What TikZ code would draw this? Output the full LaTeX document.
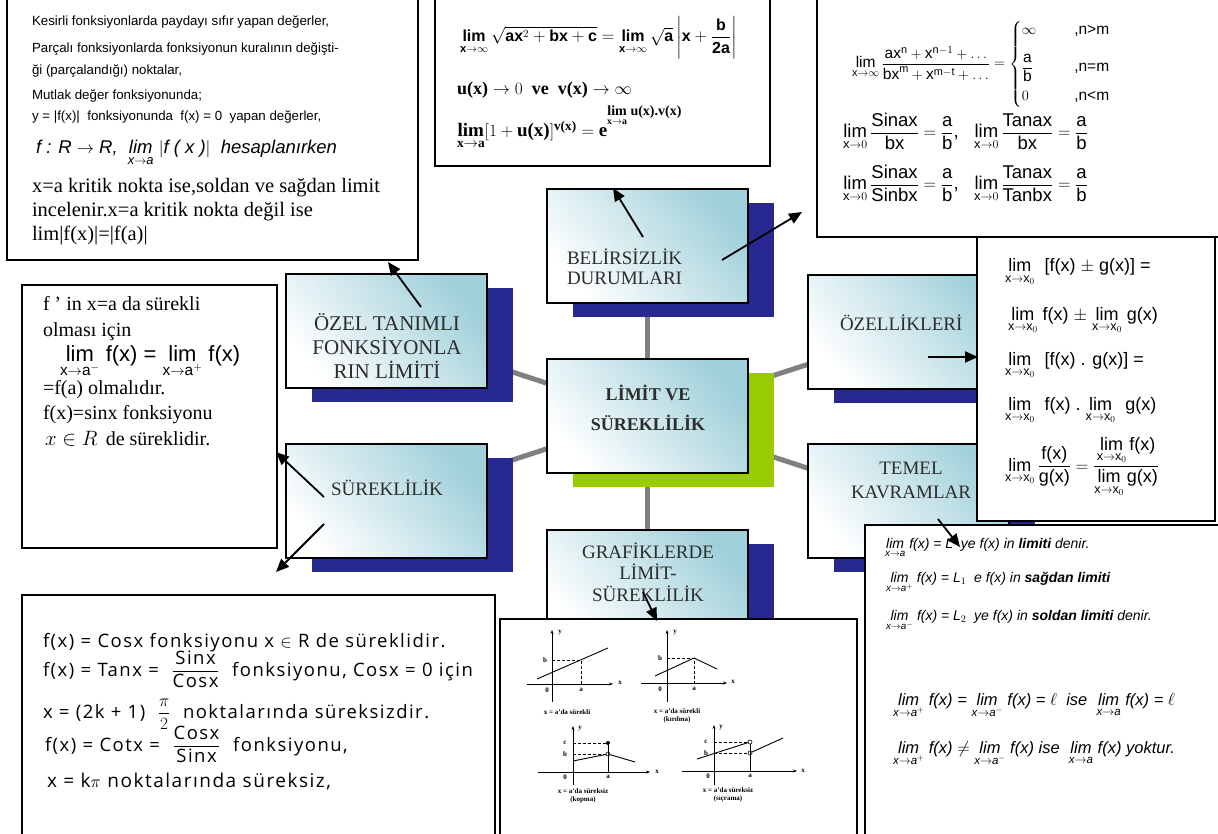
\documentclass[tikz,border=0pt]{standalone}
\usepackage{amsmath}
\usepackage{fontspec}
\setmainfont{Liberation Serif}
\setsansfont{Liberation Sans}
\newfontfamily\optfont[LetterSpace=8]{Open Sans}
\usetikzlibrary{arrows.meta,calc}
\definecolor{navyshadow}{RGB}{40,40,145}
\definecolor{limegreen}{RGB}{153,204,0}
\definecolor{tealtop}{RGB}{160,208,218}
\definecolor{connectgray}{RGB}{128,128,128}
\definecolor{labelgray}{RGB}{45,45,45}
\pgfdeclarelayer{bg}
\pgfsetlayers{bg,main}
\newcommand{\Lm}[1]{\mathop{\text{lim}}\limits_{#1}}
\begin{document}
\begin{tikzpicture}[x=1pt,y=-1pt,
  every node/.style={inner sep=0pt,outer sep=0pt},
  cbox/.style={draw=black,line width=2pt,minimum width=201pt,minimum height=114pt,anchor=north west,top color=tealtop,bottom color=white,shading angle=-50},
  ctext/.style={align=center,text=labelgray,font=\fontsize{19}{24}\selectfont},
  fbox/.style={draw=black,line width=2.6pt,fill=white,anchor=north west},
  conn/.style={draw=connectgray,line width=5pt},
  arr/.style={line width=1.8pt,-{Triangle[length=13pt,width=11pt]}},
  ln/.style={anchor=base west},
  gax/.style={line width=0.8pt,-{Stealth[length=4pt,width=3pt]}},
  gln/.style={line width=0.9pt},
  gds/.style={line width=0.5pt,densely dashed},
  glab/.style={font=\bfseries\fontsize{7}{7}\selectfont},
  gcap/.style={font=\bfseries\fontsize{7}{8}\selectfont,align=center}]
\useasboundingbox (0,0) rectangle (1218,834);
\clip (0,0) rectangle (1218,834);

% concept boxes
\node[cbox] (bel) at (547,189) {};
\node[cbox] (oz) at (286,274) {};
\node[cbox] (sur) at (286,444) {};
\node[cbox] (cen) at (547,359) {};
\node[cbox] (ozl) at (808,275) {};
\node[cbox] (tem) at (808,444) {};
\node[cbox] (gra) at (547,530) {};

\begin{pgfonlayer}{bg}
\fill[white] (0,0) rectangle (1218,834);
\draw[conn] (cen.center) -- (bel.center);
\draw[conn] (cen.center) -- (gra.center);
\draw[conn] (cen.center) -- (oz.center);
\draw[conn] (cen.center) -- (sur.center);
\draw[conn] (cen.center) -- (ozl.center);
\draw[conn] (cen.center) -- (tem.center);
\foreach \n in {bel,oz,sur,ozl,tem,gra}
  \fill[navyshadow] ($(\n.north west)+(26,14)$) rectangle ($(\n.south east)+(26,14)$);
\fill[limegreen] ($(cen.north west)+(26,14)$) rectangle ($(cen.south east)+(26,14)$);
\end{pgfonlayer}

% concept labels
\node[ctext,anchor=west,align=left,font=\fontsize{19}{20}\selectfont] (belt) at (567,267) {BELİRSİZLİK\\DURUMLARI};
\node[ctext,font=\fontsize{21}{24}\selectfont] (ozt) at (387,346) {ÖZEL TANIMLI\\FONKSİYONLA\\RIN LİMİTİ};
\node[ctext] (surt) at (387,488) {SÜREKLİLİK};
\node[ctext,font=\bfseries\fontsize{18}{30}\selectfont] (cent) at (648,408) {LİMİT VE\\SÜREKLİLİK};
\node[ctext,anchor=west] (ozlt) at (840,323) {ÖZELLİKLERİ};
\node[ctext] (temt) at (911,480) {TEMEL\\KAVRAMLAR};
\node[ctext,font=\fontsize{19}{21.5}\selectfont] (grat) at (648,572) {GRAFİKLERDE\\LİMİT-\\SÜREKLİLİK};

% formula boxes
\node[fbox,minimum width=411pt,minimum height=263pt] (A) at (7,-3) {};
\node[fbox,minimum width=335pt,minimum height=169pt] (B) at (435,-3) {};
\node[fbox,minimum width=408pt,minimum height=240pt] (C) at (817,-3) {};
\node[fbox,minimum width=238pt,minimum height=284pt] (D) at (977,237) {};
\node[fbox,minimum width=360pt,minimum height=315pt] (E) at (865,525) {};
\node[fbox,minimum width=357pt,minimum height=221pt] (F) at (500,619) {};
\node[fbox,minimum width=473pt,minimum height=245pt] (G) at (22,595) {};
\node[fbox,minimum width=255pt,minimum height=263pt] (H) at (22,285) {};

% Box A
\begin{scope}[every node/.append style={font=\sffamily\fontsize{13.3}{15}\selectfont}]
\node[ln] (a1) at (32,26) {Kesirli fonksiyonlarda paydayı sıfır yapan değerler,};
\node[ln] (a2) at (32,53) {Parçalı fonksiyonlarda fonksiyonun kuralının değişti-};
\node[ln] (a3) at (32,75) {ği (parçalandığı) noktalar,};
\node[ln] (a4) at (32,100) {Mutlak değer fonksiyonunda;};
\node[ln] (a5) at (32,121) {y = |f(x)|\ \ fonksiyonunda\ \ f(x) = 0\ \ yapan değerler,};
\end{scope}
\node[ln,font=\sffamily\itshape\fontsize{18.5}{20}\selectfont] (a6) at (36,154) {f : R $\to$ R,\ \ $\Lm{\text{x}\to\text{a}}$ $|$f ( x )$|$\ \ hesaplanırken};
\begin{scope}[every node/.append style={font=\fontsize{20.5}{22}\selectfont}]
\node[ln] (a7) at (32,193) {x=a kritik nokta ise,soldan ve sağdan limit};
\node[ln] (a8) at (32,217) {incelenir.x=a kritik nokta değil ise};
\node[ln] (a9) at (32,241) {lim|f(x)|=|f(a)|};
\end{scope}

% Box B
\node[ln,font=\sffamily\bfseries\fontsize{16}{18}\selectfont] (b1) at (460,42) {$\Lm{\text{x}\to\infty}\sqrt{\text{ax}^2+\text{bx}+\text{c}}=\Lm{\text{x}\to\infty}\sqrt{\text{a}}\left|\text{x}+\dfrac{\text{b}}{\text{2a}}\right|$};
\node[ln,font=\bfseries\fontsize{18}{20}\selectfont] (b2) at (457,95) {$\text{u(x)}\to 0$\ \ ve\ \ $\text{v(x)}\to\infty$};
\node[ln,font=\bfseries\fontsize{19}{20}\selectfont] (b3) at (457,137) {$\Lm{\text{x}\to\text{a}}[1+\text{u(x)}]^{\text{v(x)}}=\text{e}$\raisebox{21pt}{\fontsize{14}{15}\selectfont$\Lm{\text{x}\to\text{a}}$\ u(x).v(x)}};

% Box C
\node[ln,font=\sffamily\fontsize{15.5}{17}\selectfont] (c1) at (852,68) {$\Lm{\text{x}\to\infty}\dfrac{\text{ax}^{\text{n}}+\text{x}^{\text{n}-1}+\ldots}{\text{bx}^{\text{m}}+\text{x}^{\text{m}-\text{t}}+\ldots}=\left\{\begin{array}{@{}l@{\hspace{38pt}}l}\infty & \text{,n>m}\\[14pt] \dfrac{\text{a}}{\text{b}} & \text{,n=m}\\[12pt] 0 & \text{,n<m}\end{array}\right.$};
\begin{scope}[every node/.append style={font=\sffamily\fontsize{18.5}{19}\selectfont}]
\node[ln] (c2) at (843,138) {$\Lm{\text{x}\to 0}\dfrac{\text{Sinax}}{\text{bx}}=\dfrac{\text{a}}{\text{b}}$,\ \ \ $\Lm{\text{x}\to 0}\dfrac{\text{Tanax}}{\text{bx}}=\dfrac{\text{a}}{\text{b}}$};
\node[ln] (c3) at (843,190) {$\Lm{\text{x}\to 0}\dfrac{\text{Sinax}}{\text{Sinbx}}=\dfrac{\text{a}}{\text{b}}$,\ \ \ $\Lm{\text{x}\to 0}\dfrac{\text{Tanax}}{\text{Tanbx}}=\dfrac{\text{a}}{\text{b}}$};
\end{scope}

% Box D
\begin{scope}[every node/.append style={font=\sffamily\fontsize{18}{20}\selectfont}]
\node[ln] (d1) at (1005,272) {$\Lm{\text{x}\to\text{x}_0}$\ \ [f(x) $\pm$ g(x)] =};
\node[ln] (d2) at (1008,320) {$\Lm{\text{x}\to\text{x}_0}$ f(x) $\pm$ $\Lm{\text{x}\to\text{x}_0}$ g(x)};
\node[ln] (d3) at (1005,365) {$\Lm{\text{x}\to\text{x}_0}$\ \ [f(x) . g(x)] =};
\node[ln] (d4) at (1005,410) {$\Lm{\text{x}\to\text{x}_0}$\ \ f(x) .\ $\Lm{\text{x}\to\text{x}_0}$\ \ g(x)};
\node[ln] (d5) at (1005,471) {$\Lm{\text{x}\to\text{x}_0}\dfrac{\text{f(x)}}{\text{g(x)}}=\dfrac{\Lm{\text{x}\to\text{x}_0}\text{f(x)}}{\Lm{\text{x}\to\text{x}_0}\text{g(x)}}$};
\end{scope}

% Box E
\begin{scope}[every node/.append style={font=\sffamily\itshape\fontsize{14}{15}\selectfont}]
\node[ln] (e1) at (885,548) {$\Lm{\text{x}\to\text{a}}$ f(x) = L\ \ ye f(x) in \textbf{limiti} denir.};
\node[ln] (e2) at (886,582) {$\Lm{\text{x}\to\text{a}^+}$ f(x) = L$_1$\ \ e f(x) in \textbf{sağdan limiti}};
\node[ln] (e3) at (886,620) {$\Lm{\text{x}\to\text{a}^-}$ f(x) = L$_2$\ \ ye f(x) in \textbf{soldan limiti} denir.};
\end{scope}
\begin{scope}[every node/.append style={font=\sffamily\itshape\fontsize{16.5}{18}\selectfont}]
\node[ln] (e4) at (893,705) {$\Lm{\text{x}\to\text{a}^+}$ f(x) =\ $\Lm{\text{x}\to\text{a}^-}$ f(x) = $\ell$\ \ ise\ \ $\Lm{\text{x}\to\text{a}}$ f(x) = $\ell$};
\node[ln] (e5) at (893,753) {$\Lm{\text{x}\to\text{a}^+}$ f(x) $\neq$\ $\Lm{\text{x}\to\text{a}^-}$ f(x) ise\ \ $\Lm{\text{x}\to\text{a}}$ f(x) yoktur.};
\end{scope}

% Box G
\begin{scope}[every node/.append style={font=\optfont\fontsize{18.5}{19}\selectfont}]
\node[ln] (g1) at (43,647) {f(x) = Cosx fonksiyonu x $\in$ R de süreklidir.};
\node[ln] (g2) at (43,676) {f(x) = Tanx = \ $\dfrac{\text{Sinx}}{\text{Cosx}}$\ \ fonksiyonu, Cosx = 0 için};
\node[ln] (g3) at (43,718) {x = (2k + 1)\ \ $\dfrac{\pi}{2}$\ \ noktalarında süreksizdir.};
\node[ln] (g4) at (45,751) {f(x) = Cotx = \ $\dfrac{\text{Cosx}}{\text{Sinx}}$\ \ fonksiyonu,};
\node[ln,font=\optfont\fontsize{19}{20}\selectfont] (g5) at (47,787) {x = k$\pi$ noktalarında süreksiz,};
\end{scope}

% Box H
\begin{scope}[every node/.append style={font=\fontsize{20}{22}\selectfont}]
\node[ln] (h1) at (43,310) {f ’ in x=a da sürekli};
\node[ln] (h2) at (43,337) {olması için};
\node[ln,font=\sffamily\fontsize{22}{24}\selectfont] (h3) at (60,361) {$\Lm{\text{x}\to\text{a}^-}$ f(x) = $\Lm{\text{x}\to\text{a}^+}$ f(x)};
\node[ln] (h4) at (43,394) {=f(a) olmalıdır.};
\node[ln] (h5) at (43,419) {f(x)=sinx fonksiyonu};
\node[ln] (h6) at (45,445) {$x\in R$\, de süreklidir.};
\end{scope}

% Box F graphs
% graph 1
\draw[gax] (527,684) -- (613,684);
\draw[gax] (552,702) -- (552,630);
\draw[gln] (537,679) -- (608,648);
\draw[gds] (552,660) -- (581,660) -- (581,684);
\node[glab] (f1x) at (620,683) {x};
\node[glab] (f1y) at (560,633) {y};
\node[glab] (f1b) at (545,660) {b};
\node[glab] (f1o) at (547,690) {0};
\node[glab] (f1a) at (581,690) {a};
\node[gcap] (f1c) at (567,712) {x = a'da sürekli};
% graph 2
\draw[gax] (641,683) -- (727,683);
\draw[gax] (667,702) -- (667,630);
\draw[gln] (655,676) -- (694,658) -- (717,669);
\draw[gds] (667,658) -- (694,658) -- (694,683);
\node[glab] (f2x) at (733,682) {x};
\node[glab] (f2y) at (675,633) {y};
\node[glab] (f2b) at (660,658) {b};
\node[glab] (f2o) at (660,689) {0};
\node[glab] (f2a) at (694,689) {a};
\node[gcap] (f2c) at (677,716) {x = a'da sürekli\\(kırılma)};
% graph 3
\draw[gax] (538,772) -- (650,772);
\draw[gax] (573,785) -- (573,726);
\draw[gln] (573,761) -- (606,754.4);
\draw[gln] (610,754.6) -- (635,762);
\draw[line width=0.7pt] (608,745) -- (608,772);
\draw[gds] (573,743) -- (608,743);
\draw[gds] (573,754) -- (606,754);
\fill (608,743) circle (2);
\draw[line width=0.6pt] (608,754) circle (2);
\node[glab] (f3x) at (657,772) {x};
\node[glab] (f3y) at (580,729) {y};
\node[glab] (f3c) at (565,743) {c};
\node[glab] (f3b) at (565,754) {b};
\node[glab] (f3o) at (565,777) {0};
\node[glab] (f3a) at (608,777) {a};
\node[gcap] (f3k) at (583,796) {x = a'da süreksiz\\(kopma)};
% graph 4
\draw[gax] (682,771) -- (797,771);
\draw[gax] (714,785) -- (714,725);
\draw[gln] (697,759) -- (748,742.6);
\draw[gln] (752,752) -- (783,738);
\draw[line width=0.7pt] (750,744) -- (750,771);
\draw[gds] (714,742) -- (748,742);
\draw[gds] (714,753) -- (748,753);
\draw[line width=0.6pt] (750,742) circle (2);
\draw[line width=0.6pt] (750,753) circle (2);
\node[glab] (f4x) at (803,771) {x};
\node[glab] (f4y) at (721,728) {y};
\node[glab] (f4c) at (706,742) {c};
\node[glab] (f4b) at (706,753) {b};
\node[glab] (f4o) at (708,776) {0};
\node[glab] (f4a) at (750,776) {a};
\node[gcap] (f4k) at (728,795) {x = a'da süreksiz\\(sıçrama)};

% arrows
\coordinate (p1) at (421,307); \coordinate (q1) at (388,262);
\coordinate (p2) at (643,237); \coordinate (q2) at (613,188);
\coordinate (p3) at (722,260); \coordinate (q3) at (802,212);
\coordinate (p4) at (928,357); \coordinate (q4) at (978,357);
\coordinate (p5) at (938,519); \coordinate (q5) at (960,547);
\coordinate (p6) at (324,497); \coordinate (q6) at (276,452);
\coordinate (p7) at (324,524); \coordinate (q7) at (276,572);
\coordinate (p8) at (643,592); \coordinate (q8) at (657,621);
\foreach \i in {1,...,8} \draw[arr] (p\i) -- (q\i);
\end{tikzpicture}
\end{document}
